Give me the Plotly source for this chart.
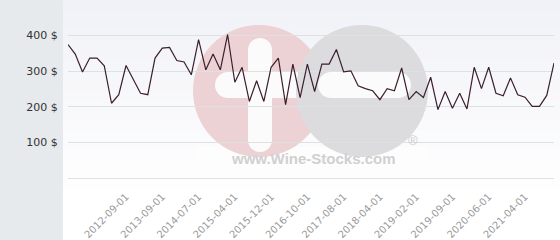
import plotly.graph_objects as go

# ---- data ----
prices = [375, 348, 298, 337, 337, 315, 210, 234, 316, 276,
          238, 234, 337, 365, 367, 330, 326, 290, 389, 304,
          348, 304, 403, 269, 311, 215, 273, 215, 311, 337,
          206, 320, 226, 320, 243, 320, 320, 361, 298, 301,
          259, 251, 245, 220, 251, 245, 309, 220, 243, 226,
          283, 192, 243, 196, 238, 194, 311, 251, 311, 238,
          231, 281, 234, 227, 201, 201, 232, 323]
tick_labels = ["2012-09-01", "2013-09-01", "2014-07-01", "2015-04-01",
               "2015-12-01", "2016-10-01", "2017-08-01", "2018-04-01",
               "2019-02-01", "2019-09-01", "2020-06-01", "2021-04-01"]
tick_index = [8, 13, 18, 23, 28, 33, 38, 43, 48, 53, 58, 63]
y_ticks = [100, 200, 300, 400]
y_tick_labels = ["100 $", "200 $", "300 $", "400 $"]

W, H = 560, 240
PL, PR, PT, PB = 68, 554, 0, 178


def px(x):
    return (x - PL) / (PR - PL)


def py(y):
    return (PB - y) / (PB - PT)


shapes = []
# background gradient
steps = 24
for i in range(steps):
    y0 = i * 10
    y1 = y0 + 10
    t = min(1.0, (y0 + 5) / 190.0)
    r = int(241 + (255 - 241) * t)
    g = int(242 + (255 - 242) * t)
    b = int(247 + (255 - 247) * t)
    shapes.append(dict(type="rect", xref="paper", yref="paper",
                       x0=px(63), x1=px(W), y0=py(y1), y1=py(y0),
                       fillcolor=f"rgb({r},{g},{b})", line=dict(width=0),
                       layer="below"))
# left panel
shapes.append(dict(type="rect", xref="paper", yref="paper",
                   x0=px(0), x1=px(63), y0=py(H), y1=py(0),
                   fillcolor="#e6eaed", line=dict(width=0), layer="below"))


def circle(cx, cy, r, color):
    return dict(type="circle", xref="paper", yref="paper",
                x0=px(cx - r), x1=px(cx + r), y0=py(cy + r), y1=py(cy - r),
                fillcolor=color, line=dict(width=0), layer="below")


def rect(x0, y0, x1, y1, color):
    return dict(type="rect", xref="paper", yref="paper",
                x0=px(x0), x1=px(x1), y0=py(y1), y1=py(y0),
                fillcolor=color, line=dict(width=0), layer="below")


# watermark
shapes.append(rect(197, 147, 427, 173, "#fdfdfd"))
shapes.append(circle(259, 91, 66, "#ecd1d5"))
shapes.append(rect(248, 50, 272, 140, "#fbfbfc"))
shapes.append(circle(260, 50, 12, "#fbfbfc"))
shapes.append(circle(260, 140, 12, "#fbfbfc"))
shapes.append(rect(228, 72, 298, 98, "#fbfbfc"))
shapes.append(circle(228, 85, 13, "#fbfbfc"))
shapes.append(circle(362, 91, 66, "#dcdcde"))
shapes.append(rect(331, 72, 398, 98, "#fbfbfc"))
shapes.append(circle(331, 85, 13, "#fbfbfc"))
shapes.append(circle(398, 85, 13, "#fbfbfc"))

annotations = [
    dict(xref="paper", yref="paper", x=px(313), y=py(158),
         text="<b>www.Wine-Stocks.com</b>", showarrow=False,
         font=dict(family="Liberation Sans", size=15, color="#d0d0d0"),
         xanchor="center", yanchor="middle"),
    dict(xref="paper", yref="paper", x=px(413), y=py(140),
         text="®", showarrow=False,
         font=dict(family="Liberation Sans", size=13, color="#cccccc"),
         xanchor="center", yanchor="middle"),
]

fig = go.Figure()
fig.add_trace(go.Scatter(
    x=list(range(len(prices))), y=prices, mode="lines",
    line=dict(color="#3b1f2d", width=1.2), hoverinfo="skip",
    showlegend=False))

fig.update_layout(
    width=W, height=H,
    margin=dict(l=PL, r=W - PR, t=PT, b=H - PB, pad=0),
    paper_bgcolor="#ffffff",
    plot_bgcolor="rgba(0,0,0,0)",
    shapes=shapes,
    annotations=annotations,
    xaxis=dict(range=[0, len(prices) - 1], tickmode="array",
               tickvals=tick_index, ticktext=tick_labels, tickangle=-45,
               showgrid=False, zeroline=False, showline=True,
               linecolor="#e0e0e0", linewidth=1,
               ticks="outside", ticklen=8, tickcolor="rgba(0,0,0,0)",
               tickfont=dict(family="DejaVu Sans", size=10, color="#9a9a9a")),
    yaxis=dict(range=[0, 500], tickmode="array", tickvals=y_ticks,
               ticktext=y_tick_labels, showgrid=True, gridcolor="#e0e0e0",
               gridwidth=1, zeroline=False, showline=False,
               ticks="outside", ticklen=7, tickcolor="rgba(0,0,0,0)",
               tickfont=dict(family="DejaVu Sans", size=11, color="#333333")),
)

fig.write_html("out.html")
